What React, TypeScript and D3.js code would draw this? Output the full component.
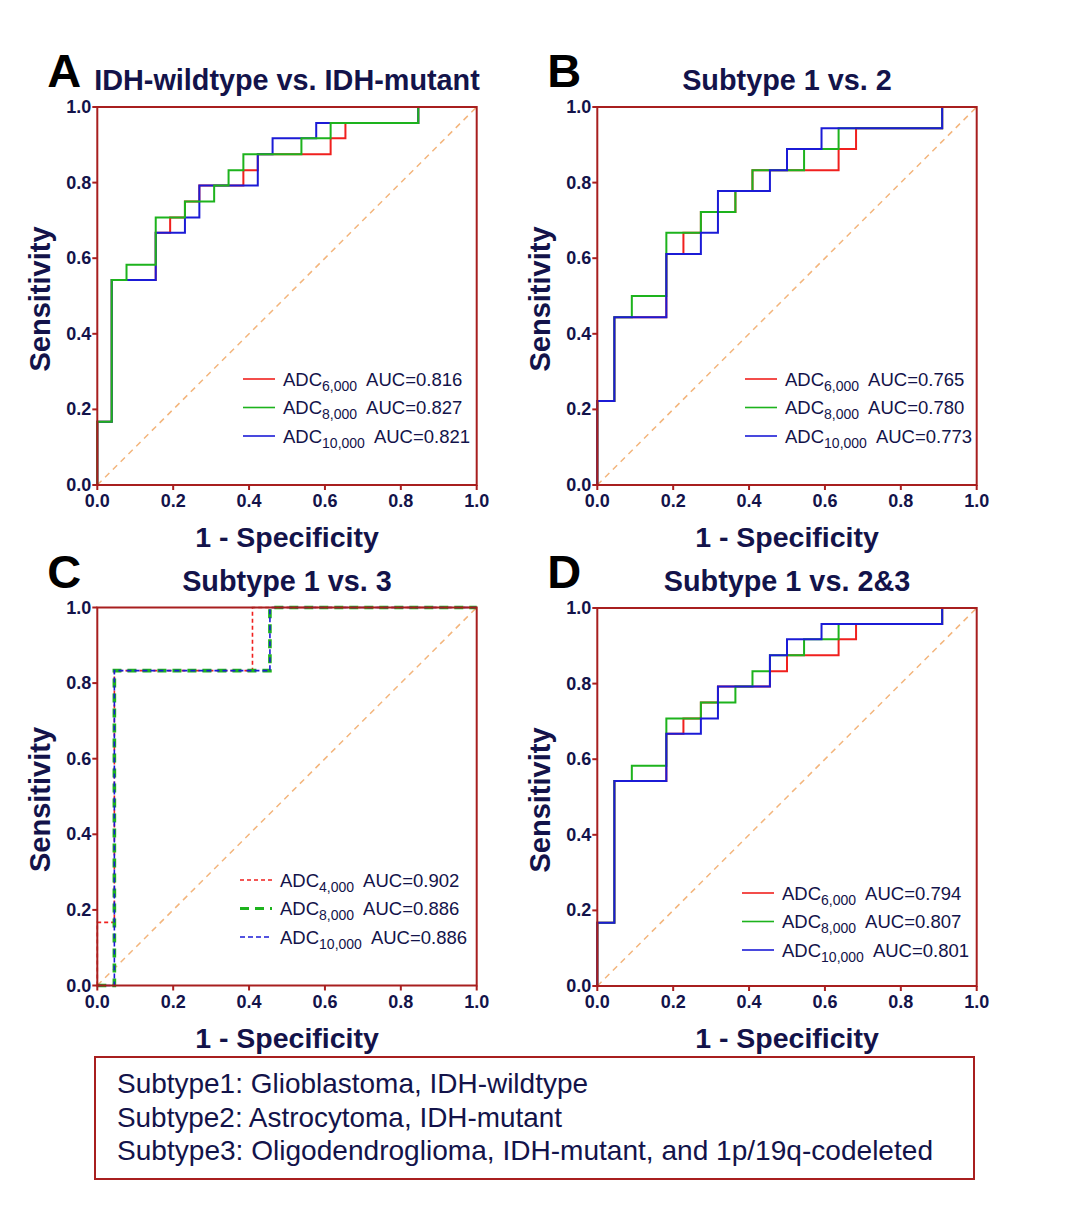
import React from "react";
import * as d3 from "d3";

// ---------- DATA ----------
const panelLetters = ["A", "B", "C", "D"];
const panelTitles = [
  "IDH-wildtype vs. IDH-mutant",
  "Subtype 1 vs. 2",
  "Subtype 1 vs. 3",
  "Subtype 1 vs. 2&3",
];
const tickValues = [0, 0.2, 0.4, 0.6, 0.8, 1.0];
const xAxisTitle = "1 - Specificity";
const yAxisTitle = "Sensitivity";

// Panel A (IDH-wildtype vs IDH-mutant): ROC corner points (fpr, tpr)
const aRedFpr = [0, 0, 0.038, 0.154, 0.192, 0.231, 0.269, 0.385, 0.423, 0.615, 0.654, 0.846, 1];
const aRedTpr = [0, 0.167, 0.542, 0.667, 0.708, 0.75, 0.792, 0.833, 0.875, 0.917, 0.958, 1, 1];
const aGreenFpr = [0, 0, 0.038, 0.077, 0.154, 0.231, 0.308, 0.346, 0.385, 0.538, 0.615, 0.846, 1];
const aGreenTpr = [0, 0.167, 0.542, 0.583, 0.708, 0.75, 0.792, 0.833, 0.875, 0.917, 0.958, 1, 1];
const aBlueFpr = [0, 0, 0.038, 0.154, 0.231, 0.269, 0.423, 0.462, 0.577, 0.846, 1];
const aBlueTpr = [0, 0.167, 0.542, 0.667, 0.708, 0.792, 0.875, 0.917, 0.958, 1, 1];

// Panel B (Subtype 1 vs 2)
const bRedFpr = [0, 0, 0.045, 0.182, 0.227, 0.273, 0.364, 0.409, 0.636, 0.682, 0.909, 1];
const bRedTpr = [0, 0.222, 0.444, 0.611, 0.667, 0.722, 0.778, 0.833, 0.889, 0.944, 1, 1];
const bGreenFpr = [0, 0, 0.045, 0.091, 0.182, 0.273, 0.364, 0.409, 0.545, 0.636, 0.909, 1];
const bGreenTpr = [0, 0.222, 0.444, 0.5, 0.667, 0.722, 0.778, 0.833, 0.889, 0.944, 1, 1];
const bBlueFpr = [0, 0, 0.045, 0.182, 0.273, 0.318, 0.455, 0.5, 0.591, 0.909, 1];
const bBlueTpr = [0, 0.222, 0.444, 0.611, 0.667, 0.778, 0.833, 0.889, 0.944, 1, 1];

// Panel C (Subtype 1 vs 3)
const cRedFpr = [0, 0, 0.045, 0.409, 1];
const cRedTpr = [0, 0.167, 0.833, 1, 1];
const cGreenFpr = [0, 0.045, 0.455, 1];
const cGreenTpr = [0, 0.833, 1, 1];
const cBlueFpr = [0, 0.045, 0.455, 1];
const cBlueTpr = [0, 0.833, 1, 1];

// Panel D (Subtype 1 vs 2&3)
const dRedFpr = [0, 0, 0.045, 0.182, 0.227, 0.273, 0.318, 0.455, 0.5, 0.636, 0.682, 0.909, 1];
const dRedTpr = [0, 0.167, 0.542, 0.667, 0.708, 0.75, 0.792, 0.833, 0.875, 0.917, 0.958, 1, 1];
const dGreenFpr = [0, 0, 0.045, 0.091, 0.182, 0.273, 0.364, 0.409, 0.455, 0.545, 0.636, 0.909, 1];
const dGreenTpr = [0, 0.167, 0.542, 0.583, 0.708, 0.75, 0.792, 0.833, 0.875, 0.917, 0.958, 1, 1];
const dBlueFpr = [0, 0, 0.045, 0.182, 0.273, 0.318, 0.455, 0.5, 0.591, 0.909, 1];
const dBlueTpr = [0, 0.167, 0.542, 0.667, 0.708, 0.792, 0.875, 0.917, 0.958, 1, 1];

// Legend labels
const aSubs = ["6,000", "8,000", "10,000"];
const aAucs = ["0.816", "0.827", "0.821"];
const bSubs = ["6,000", "8,000", "10,000"];
const bAucs = ["0.765", "0.780", "0.773"];
const cSubs = ["4,000", "8,000", "10,000"];
const cAucs = ["0.902", "0.886", "0.886"];
const dSubs = ["6,000", "8,000", "10,000"];
const dAucs = ["0.794", "0.807", "0.801"];

const captionLines = [
  "Subtype1: Glioblastoma, IDH-wildtype",
  "Subtype2: Astrocytoma, IDH-mutant",
  "Subtype3: Oligodendroglioma, IDH-mutant, and 1p/19q-codeleted",
];
const captionWidths = [471, 445, 816];

// ---------- STYLE ----------
const W = 1080;
const H = 1231;
const FONT = "'Liberation Sans', Arial, Helvetica, sans-serif";
const NAVY = "#13134a";
const FRAME = "#a81f1f";
const RED = "#f0201e";
const GREEN = "#1db31d";
const BLUE = "#1b1bd6";
const DIAG = "#f3b57c";

type Series = { fpr: number[]; tpr: number[]; color: string; width: number; dash?: string };

type PanelSpec = {
  left: number;
  top: number;
  letter: string;
  title: string;
  series: Series[]; // drawing order
  legendOrder: Series[];
  subs: string[];
  aucs: string[];
  legendX: number;
  legendY: number;
};

const PW = 379.4;
const PH = 378;

const solid = (fpr: number[], tpr: number[], color: string): Series => ({ fpr, tpr, color, width: 2 });

const aR = solid(aRedFpr, aRedTpr, RED);
const aG = solid(aGreenFpr, aGreenTpr, GREEN);
const aB = solid(aBlueFpr, aBlueTpr, BLUE);
const bR = solid(bRedFpr, bRedTpr, RED);
const bG = solid(bGreenFpr, bGreenTpr, GREEN);
const bB = solid(bBlueFpr, bBlueTpr, BLUE);
const cR: Series = { fpr: cRedFpr, tpr: cRedTpr, color: RED, width: 1.6, dash: "4,3" };
const cG: Series = { fpr: cGreenFpr, tpr: cGreenTpr, color: GREEN, width: 3.6, dash: "9,6" };
const cB: Series = { fpr: cBlueFpr, tpr: cBlueTpr, color: BLUE, width: 1.6, dash: "5,3" };
const dR = solid(dRedFpr, dRedTpr, RED);
const dG = solid(dGreenFpr, dGreenTpr, GREEN);
const dB = solid(dBlueFpr, dBlueTpr, BLUE);

const panels: PanelSpec[] = [
  { left: 97.3, top: 107, letter: panelLetters[0], title: panelTitles[0], series: [aR, aB, aG], legendOrder: [aR, aG, aB], subs: aSubs, aucs: aAucs, legendX: 243, legendY: 379 },
  { left: 597.3, top: 107, letter: panelLetters[1], title: panelTitles[1], series: [bR, bG, bB], legendOrder: [bR, bG, bB], subs: bSubs, aucs: bAucs, legendX: 745, legendY: 379 },
  { left: 97.3, top: 607.5, letter: panelLetters[2], title: panelTitles[2], series: [cR, cG, cB], legendOrder: [cR, cG, cB], subs: cSubs, aucs: cAucs, legendX: 240, legendY: 880 },
  { left: 597.3, top: 608, letter: panelLetters[3], title: panelTitles[3], series: [dR, dG, dB], legendOrder: [dR, dG, dB], subs: dSubs, aucs: dAucs, legendX: 742, legendY: 893 },
];

function Panel({ p }: { p: PanelSpec }) {
  const x = d3.scaleLinear().domain([0, 1]).range([p.left, p.left + PW]);
  const y = d3.scaleLinear().domain([0, 1]).range([p.top + PH, p.top]);
  const line = d3
    .line<[number, number]>()
    .x((d) => x(d[0]))
    .y((d) => y(d[1]))
    .curve(d3.curveStepAfter);
  const cx = p.left + PW / 2;
  const cy = p.top + PH / 2;
  return (
    <g>
      {/* diagonal */}
      <line x1={x(0)} y1={y(0)} x2={x(1)} y2={y(1)} stroke={DIAG} strokeWidth={1.5} strokeDasharray="6,5" />
      {/* curves */}
      {p.series.map((s, i) => (
        <path
          key={i}
          d={line(s.fpr.map((f, j) => [f, s.tpr[j]] as [number, number])) || ""}
          fill="none"
          stroke={s.color}
          strokeWidth={s.width}
          strokeDasharray={s.dash}
        />
      ))}
      {/* frame */}
      <rect x={p.left} y={p.top} width={PW} height={PH} fill="none" stroke={FRAME} strokeWidth={2} />
      {/* ticks */}
      {x.ticks(5).map((t) => (
        <g key={"x" + t}>
          <line x1={x(t)} x2={x(t)} y1={p.top + PH} y2={p.top + PH + 5} stroke={FRAME} strokeWidth={2} />
          <text x={x(t)} y={p.top + PH + 22} textAnchor="middle" fontFamily={FONT} fontWeight="bold" fontSize={18} fill={NAVY}>
            {tickValues[Math.round(t * 5)].toFixed(1)}
          </text>
        </g>
      ))}
      {y.ticks(5).map((t) => (
        <g key={"y" + t}>
          <line x1={p.left - 5} x2={p.left} y1={y(t)} y2={y(t)} stroke={FRAME} strokeWidth={2} />
          <text x={p.left - 6} y={y(t) + 6} textAnchor="end" fontFamily={FONT} fontWeight="bold" fontSize={18} fill={NAVY}>
            {tickValues[Math.round(t * 5)].toFixed(1)}
          </text>
        </g>
      ))}
      {/* axis titles */}
      <text x={cx} y={p.top + PH + 62} textAnchor="middle" fontFamily={FONT} fontWeight="bold" fontSize={28.5} fill={NAVY}>
        {xAxisTitle}
      </text>
      <text
        transform={`translate(${p.left - 47},${cy + 3}) rotate(-90)`}
        textAnchor="middle"
        fontFamily={FONT}
        fontWeight="bold"
        fontSize={29}
        fill={NAVY}
      >
        {yAxisTitle}
      </text>
      {/* title */}
      <text x={cx} y={p.top - 17} textAnchor="middle" fontFamily={FONT} fontWeight="bold" fontSize={28.8} fill={NAVY}>
        {p.title}
      </text>
      {/* panel letter */}
      <text x={p.left - 50} y={p.top - 20} fontFamily={FONT} fontWeight="bold" fontSize={47} fill="#000">
        {p.letter}
      </text>
      {/* legend */}
      {p.legendOrder.map((s, i) => {
        const ly = p.legendY + i * 28.5;
        return (
          <g key={"l" + i}>
            <line x1={p.legendX} x2={p.legendX + 32} y1={ly} y2={ly} stroke={s.color} strokeWidth={s.dash ? Math.min(s.width, 3.2) : 1.6} strokeDasharray={s.dash} />
            <text x={p.legendX + 40} y={ly + 6.5} fontFamily={FONT} fontSize={18.5} fill={NAVY}>
              <tspan>ADC</tspan>
              <tspan fontSize={14} dy={5}>{p.subs[i]}</tspan>
              <tspan dy={-5} dx={9}>{"AUC=" + p.aucs[i]}</tspan>
            </text>
          </g>
        );
      })}
    </g>
  );
}

export default function App() {
  const capX = 95;
  const capY = 1057;
  const capW = 879;
  const capH = 122;
  return (
    <svg
      width={W}
      height={H}
      viewBox={`0 0 ${W} ${H}`}
      style={{ position: "absolute", left: 0, top: 0, display: "block", background: "#fff" }}
    >
      <rect x={0} y={0} width={W} height={H} fill="#fff" />
      {panels.map((p, i) => (
        <Panel key={i} p={p} />
      ))}
      <rect x={capX} y={capY} width={capW} height={capH} fill="none" stroke={FRAME} strokeWidth={2} />
      {captionLines.map((t, i) => (
        <text
          key={i}
          x={117}
          y={1093 + i * 33.5}
          fontFamily={FONT}
          fontSize={28.5}
          fill={NAVY}
          textLength={captionWidths[i]}
          lengthAdjust="spacingAndGlyphs"
        >
          {t}
        </text>
      ))}
    </svg>
  );
}
